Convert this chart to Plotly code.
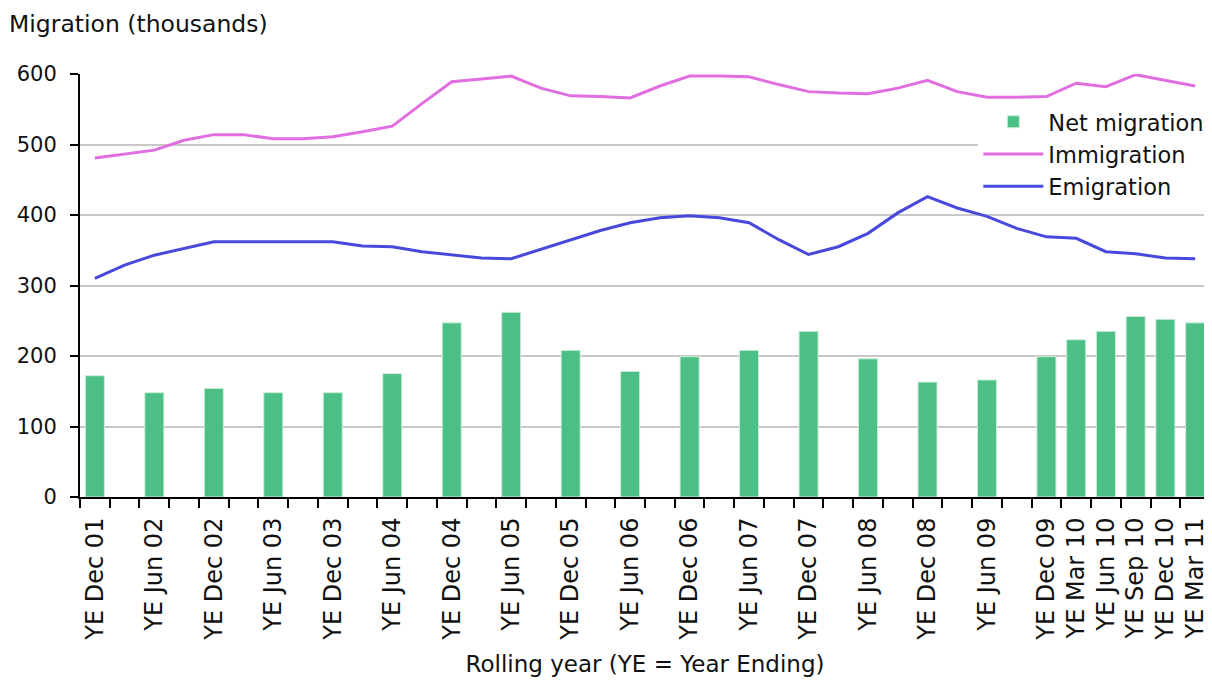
import plotly.graph_objects as go

quarters = ["YE Dec 01",
            "YE Mar 02", "YE Jun 02", "YE Sep 02", "YE Dec 02",
            "YE Mar 03", "YE Jun 03", "YE Sep 03", "YE Dec 03",
            "YE Mar 04", "YE Jun 04", "YE Sep 04", "YE Dec 04",
            "YE Mar 05", "YE Jun 05", "YE Sep 05", "YE Dec 05",
            "YE Mar 06", "YE Jun 06", "YE Sep 06", "YE Dec 06",
            "YE Mar 07", "YE Jun 07", "YE Sep 07", "YE Dec 07",
            "YE Mar 08", "YE Jun 08", "YE Sep 08", "YE Dec 08",
            "YE Mar 09", "YE Jun 09", "YE Sep 09", "YE Dec 09",
            "YE Mar 10", "YE Jun 10", "YE Sep 10", "YE Dec 10",
            "YE Mar 11"]

labelled = ["YE Dec 01", "YE Jun 02", "YE Dec 02", "YE Jun 03", "YE Dec 03",
            "YE Jun 04", "YE Dec 04", "YE Jun 05", "YE Dec 05", "YE Jun 06",
            "YE Dec 06", "YE Jun 07", "YE Dec 07", "YE Jun 08", "YE Dec 08",
            "YE Jun 09", "YE Dec 09", "YE Mar 10", "YE Jun 10", "YE Sep 10",
            "YE Dec 10", "YE Mar 11"]

net_migration = [172, 148, 154, 148, 148, 175, 247, 262, 208, 178, 199,
                 208, 235, 196, 163, 166, 199, 223, 235, 256, 252, 247]

immigration = [481, 487, 492, 506, 514, 514, 508, 508, 511, 518, 526, 558,
               589, 593, 597, 580, 569, 568, 566, 583, 597, 597, 596, 585,
               575, 573, 572, 580, 591, 575, 567, 567, 568, 587, 582, 599,
               591, 583]

emigration = [310, 329, 343, 353, 362, 362, 362, 362, 362, 356, 355, 348,
              343, 339, 338, 351, 365, 378, 389, 396, 399, 396, 389, 365,
              344, 355, 374, 403, 426, 410, 398, 381, 369, 367, 348, 345,
              339, 338]

y_ticks = [0, 100, 200, 300, 400, 500, 600]

FONT = "DejaVu Sans"
TXT = "#111111"
GREEN = "#4CBF86"
PINK = "#E06EE0"
BLUE = "#4848DC"

tick_text = [q if q in labelled else "" for q in quarters]

fig = go.Figure()
fig.add_trace(go.Bar(
    x=labelled, y=net_migration, name="Net migration",
    marker=dict(color=GREEN, line=dict(color="#C8EED8", width=1)),
    width=0.64,
))
fig.add_trace(go.Scatter(
    x=quarters, y=immigration, name="Immigration", mode="lines",
    line=dict(color=PINK, width=3),
))
fig.add_trace(go.Scatter(
    x=quarters, y=emigration, name="Emigration", mode="lines",
    line=dict(color=BLUE, width=3),
))

fig.add_annotation(
    text="Migration (thousands)", xref="paper", yref="paper",
    x=-73 / 1130, y=(497 - 24) / 423, xanchor="left", yanchor="middle",
    showarrow=False, font=dict(family=FONT, size=23.5, color=TXT),
)

# the page body adds an 8px offset; margins compensate for it
fig.update_layout(
    width=1204, height=672,
    margin=dict(l=72, r=2, t=66, b=183, autoexpand=False),
    paper_bgcolor="white", plot_bgcolor="white",
    font=dict(family=FONT, size=22, color=TXT),
    showlegend=True,
    legend=dict(x=0.795, y=0.937, xanchor="left", yanchor="top",
                bgcolor="white", borderwidth=0,
                font=dict(family=FONT, size=22.5, color=TXT),
                tracegroupgap=0, itemwidth=60),
    xaxis=dict(
        type="category", categoryorder="array", categoryarray=quarters,
        range=[-0.5, len(quarters) - 0.5], automargin=False,
        tickmode="array", tickvals=quarters, ticktext=tick_text,
        tickson="boundaries", ticks="outside", ticklen=9, tickwidth=2,
        tickcolor="black", tickangle=-90, ticklabelstandoff=9,
        showline=True, linecolor="black", linewidth=2,
        showgrid=False, zeroline=False,
        title=dict(text="Rolling year (YE = Year Ending)", standoff=16,
                   font=dict(family=FONT, size=23, color=TXT)),
        tickfont=dict(family=FONT, size=24, color=TXT),
    ),
    yaxis=dict(
        range=[0, 600], tickmode="array", tickvals=y_ticks, automargin=False,
        ticks="outside", ticklen=8, tickwidth=2, tickcolor="black",
        ticklabelstandoff=9,
        showline=True, linecolor="black", linewidth=2,
        showgrid=True, gridcolor="#C8C8C8", gridwidth=2,
        zeroline=False, tickfont=dict(family=FONT, size=21, color=TXT),
    ),
    bargap=0.36,
)

fig.write_html("out.html")
